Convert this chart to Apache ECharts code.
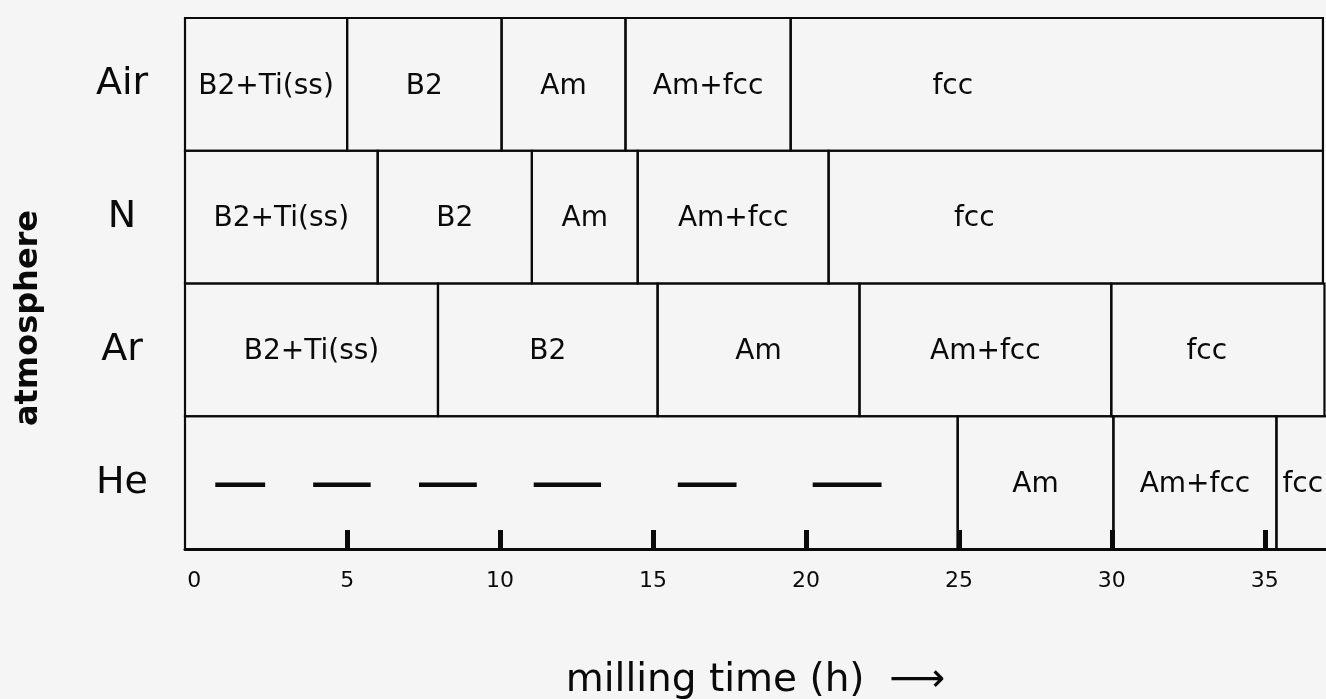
<!DOCTYPE html>
<html><head><meta charset="utf-8">
<script src="https://cdn.jsdelivr.net/npm/echarts@6/dist/echarts.min.js"></script>
<style>html,body{margin:0;padding:0;background:#f5f5f5}#c{width:1326px;height:699px}</style>
</head><body><div id="c"></div>
<script>
// ---- data ----
const atmospheres = ['Air', 'N', 'Ar', 'He'];
const phaseNames = ['B2+Ti(ss)', 'B2', 'Am', 'Am+fcc', 'fcc'];
const airBounds = [0, 5.0, 10.05, 14.1, 19.5, 36.9];
const nBounds   = [0, 6.0, 11.04, 14.5, 20.74, 36.9];
const arBounds  = [0, 7.97, 15.15, 21.75, 29.98, 36.95];
const heBounds  = [0, 24.96, 30.05, 35.38, 37.6];
const hePhases  = ['', 'Am', 'Am+fcc', 'fcc'];
// label anchors (milling time) where the original label is not centred in its block
const airLabelAt = [null, null, null, null, 24.8];
const nLabelAt   = [null, null, null, null, 25.5];
const arLabelAt  = [null, null, null, null, 33.1];
const heLabelAt  = [null, null, null, 36.24];
// He: no phase data up to 25 h (dashes)
const heDashes = [[0.69, 2.32], [3.89, 5.77], [7.35, 9.24], [11.1, 13.3], [15.81, 17.73], [20.22, 22.47]];
const tickValues = [5, 10, 15, 20, 25, 30, 35];
const tickLabels = [0, 5, 10, 15, 20, 25, 30, 35];

// ---- build blocks ----
const blocks = [];
function addRow(row, bounds, names, labelAt) {
  for (let i = 0; i < bounds.length - 1; i++) {
    blocks.push({ row: row, start: bounds[i], end: bounds[i + 1], label: names[i], labelAt: labelAt[i] });
  }
}
addRow(0, airBounds, phaseNames, airLabelAt);
addRow(1, nBounds, phaseNames, nLabelAt);
addRow(2, arBounds, phaseNames, arLabelAt);
addRow(3, heBounds, hePhases, heLabelAt);

const FONT = '"DejaVu Sans", "Liberation Sans", sans-serif';
const INK = '#0a0a0a';

function renderBlock(params, api) {
  const b = blocks[params.dataIndex];
  const cs = params.coordSys;
  const c0 = api.coord([api.value(0), api.value(1)]);
  const c1 = api.coord([api.value(2), api.value(1)]);
  const h = api.size([0, 1])[1];
  const x0 = b.start <= 0 ? cs.x : c0[0];
  const children = [{
    type: 'rect',
    shape: { x: x0, y: c0[1] - h / 2, width: c1[0] - x0, height: h },
    style: { fill: 'none', stroke: INK, lineWidth: 2.2 }
  }];
  if (b.label) {
    const lx = b.labelAt != null ? api.coord([b.labelAt, b.row])[0]
      : (x0 + Math.min(c1[0], cs.x + cs.width)) / 2;
    children.push({
      type: 'text', x: lx, y: c0[1] + 2,
      style: { text: b.label, align: 'center', verticalAlign: 'middle', font: '28px ' + FONT, fill: INK }
    });
  }
  return { type: 'group', children: children };
}

function renderDash(params, api) {
  const p0 = api.coord([api.value(0), api.value(1)]);
  const p1 = api.coord([api.value(2), api.value(1)]);
  return {
    type: 'line',
    shape: { x1: p0[0], y1: p0[1] + 2, x2: p1[0], y2: p1[1] + 2 },
    style: { stroke: INK, lineWidth: 4.5 }
  };
}

const chart = echarts.init(document.getElementById('c'), null, { renderer: 'canvas' });
chart.setOption({
  backgroundColor: '#f5f5f5',
  animation: false,
  grid: { left: 185, right: 0, top: 18, bottom: 150, containLabel: false, outerBoundsMode: 'none' },
  xAxis: {
    type: 'value', min: -0.3, max: 37,
    axisLine: { show: true, lineStyle: { color: INK, width: 3 } },
    axisTick: { show: true, customValues: tickValues, inside: true, length: 19, lineStyle: { color: INK, width: 5 } },
    axisLabel: { customValues: tickLabels, fontSize: 22, fontFamily: FONT, color: INK, margin: 21 },
    splitLine: { show: false },
    name: 'milling time (h)  \u27F6',
    nameLocation: 'middle', nameGap: 112,
    nameTextStyle: { fontSize: 39, fontFamily: FONT, color: INK }
  },
  yAxis: {
    type: 'category', data: atmospheres, inverse: true,
    axisLine: { show: false }, axisTick: { show: false },
    axisLabel: { fontSize: 38, fontFamily: FONT, color: INK, margin: 63, align: 'center' },
    splitLine: { show: false }
  },
  graphic: [{
    type: 'text', x: 29, y: 318, rotation: Math.PI / 2,
    style: { text: 'atmosphere', align: 'center', verticalAlign: 'middle', font: 'bold 32px ' + FONT, fill: INK }
  }],
  series: [{
    type: 'custom',
    renderItem: renderBlock,
    encode: { x: [0, 2], y: 1 },
    data: blocks.map(b => [b.start, b.row, b.end])
  }, {
    type: 'custom',
    renderItem: renderDash,
    encode: { x: [0, 2], y: 1 },
    data: heDashes.map(d => [d[0], 3, d[1]])
  }]
});
</script></body></html>
